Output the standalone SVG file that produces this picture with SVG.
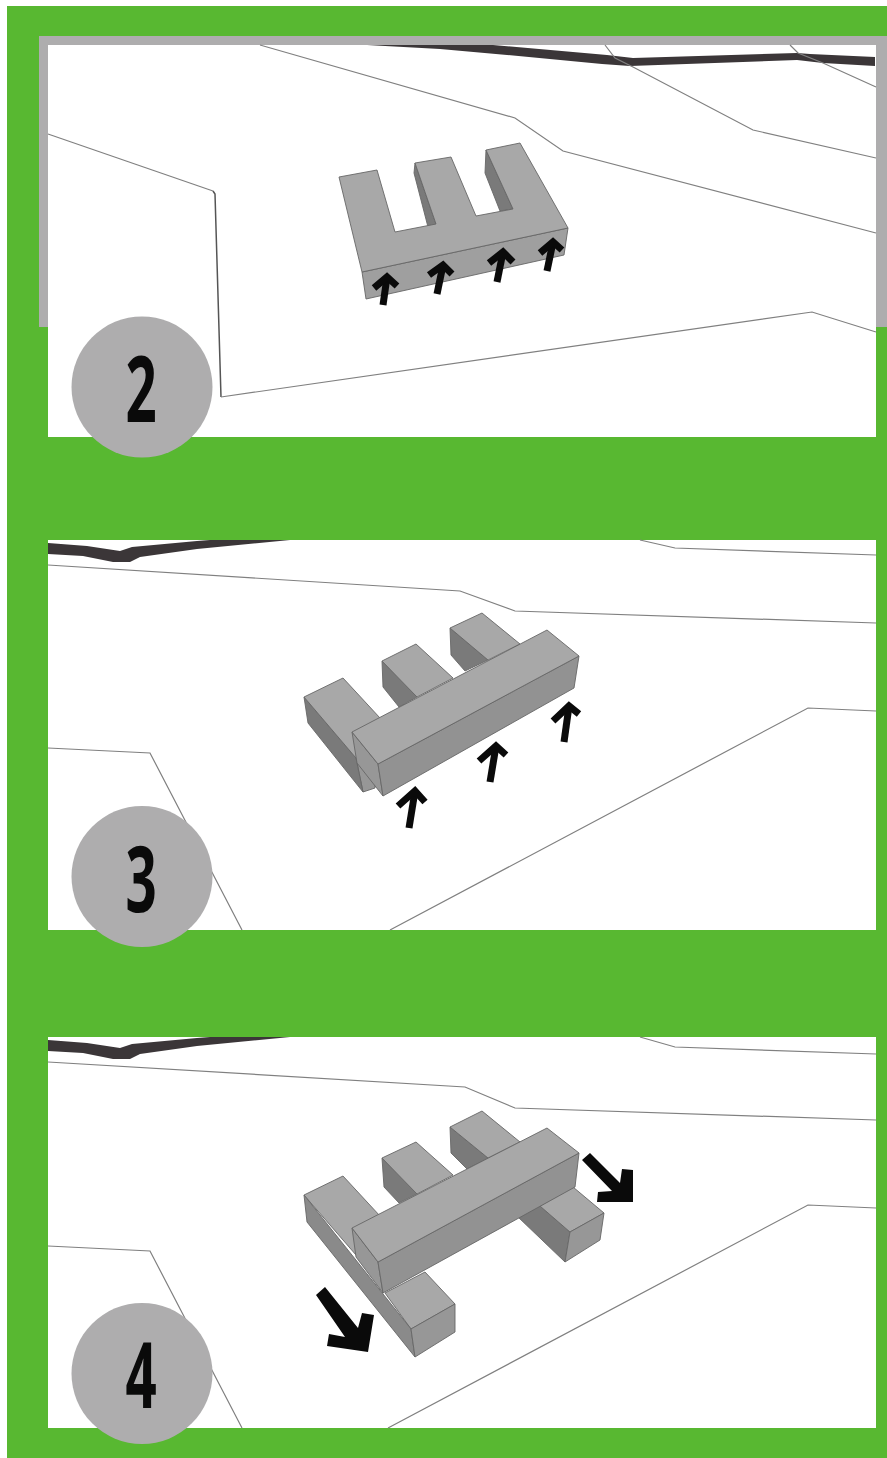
<svg xmlns="http://www.w3.org/2000/svg" width="887" height="1458" viewBox="0 0 887 1458">
<style>
.panel{fill:#fff}
.thin{fill:none;stroke:#808080;stroke-width:1.2}
.road{fill:#3b3638}
.top{fill:#a8a8a8;stroke:#666;stroke-width:.9;stroke-linejoin:round}
.front{fill:#929292;stroke:#666;stroke-width:.9;stroke-linejoin:round}
.side{fill:#7a7a7a;stroke:#666;stroke-width:.9;stroke-linejoin:round}
.end{fill:#979797;stroke:#666;stroke-width:.9;stroke-linejoin:round}
.arrow{fill:none;stroke:#0a0a0a;stroke-width:7;stroke-linejoin:miter;stroke-miterlimit:6}
.badge{fill:#aeadae}
.num{font-family:"Open Sans",sans-serif;font-weight:700;font-size:91px;fill:#0a0a0a;text-anchor:middle}
</style>
<rect x="0" y="0" width="887" height="1458" fill="#fff"/>
<rect x="7" y="6" width="880" height="1452" fill="#58b831"/>

<g id="panel-2">
<rect x="39" y="36" width="848" height="291" fill="#aeadae"/>
<rect class="panel" x="48" y="45" width="828" height="392"/>
<polygon class="road" points="367,45 493,45 573,52 607,55 633,58 797,53 810,54 875,57 875,66 823,63 797,60 630,66 602,64 507,55 440,49"/>
<polyline class="thin" points="260,45 515,118 563,151 876,233"/>
<polyline class="thin" points="605,45 615,58 633,67 753,130 876,158"/>
<polyline class="thin" points="790,45 798,53 823,63 876,87"/>
<polyline class="thin" points="48,134 213,191"/>
<polyline class="thin" style="stroke:#555;stroke-width:1.5" points="213,191 215,194 221,397"/>
<polyline class="thin" points="221,397 812,312 876,332"/>
<g id="block-2">
<polygon class="side" points="415,163 436,224 428,227 414,173"/>
<polygon class="side" points="486,150 513,209 500,211 485,173"/>
<polygon class="front" style="fill:#9f9f9f" points="362,272 568,228 564,255 366,299"/>
<polygon class="top" points="339,177 377,170 395,232 436,224 415,163 451,157 476,216 513,209 486,150 520,143 568,228 362,272"/>
</g>
<g id="arrows-2">
<polyline class="arrow" points="383,305 387,277"/><polyline class="arrow" points="374,288 387,277 397,286"/>
<polyline class="arrow" points="437,294 443,265"/><polyline class="arrow" points="429,275 443,265 452,274"/>
<polyline class="arrow" points="497,282 503,252"/><polyline class="arrow" points="489,263 503,252 513,262"/>
<polyline class="arrow" points="547,271 553,242"/><polyline class="arrow" points="540,253 553,242 562,250"/>
</g>
<g id="badge-2"><circle class="badge" cx="142" cy="387" r="70.5"/><text class="num" transform="translate(141 422) scale(.6 1)">2</text></g>
</g>

<g id="panel-3">
<rect class="panel" x="48" y="540" width="828" height="390"/>
<polygon class="road" points="48,543 87,546 120,551 132,547 197,541 210,540 290,540 197,549 140,557 130,562 113,562 83,556 48,554"/>
<polyline class="thin" points="48,565 460,591 515,611 876,623"/>
<polyline class="thin" points="640,540 675,548 876,555"/>
<polyline class="thin" points="48,748 150,753 242,930"/>
<polyline class="thin" points="390,930 808,708 876,711"/>
<g id="block-3">
<polygon class="side" points="450,628 488,660 465,671 451,655"/>
<polygon class="top" points="450,628 482,613 520,644 488,660"/>
<polygon class="side" points="382,661 417,697 399,707 383,687"/>
<polygon class="top" points="382,661 416,644 453,678 417,697"/>
<polygon class="end" points="356,758 375,748 375,788 363,792"/>
<polygon class="side" points="304,697 356,758 363,792 308,723"/>
<polygon class="top" points="304,697 343,678 380,718 372,770 356,758"/>
<polygon class="end" points="352,732 378,764 383,796 357,763"/>
<polygon class="front" points="378,764 579,656 574,688 383,796"/>
<polygon class="top" points="352,732 547,630 579,656 378,764"/>
</g>
<g id="arrows-3">
<polyline class="arrow" points="409,828 415,791"/><polyline class="arrow" points="398,806 415,791 425,802"/>
<polyline class="arrow" points="490,782 496,746"/><polyline class="arrow" points="479,761 496,746 506,755"/>
<polyline class="arrow" points="564,742 569,706"/><polyline class="arrow" points="553,721 569,706 579,714"/>
</g>
<g id="badge-3"><circle class="badge" cx="142" cy="876.500" r="70.500"/><text class="num" transform="translate(141 912) scale(.6 1)">3</text></g>
</g>

<g id="panel-4">
<rect class="panel" x="48" y="1037" width="828" height="391"/>
<polygon class="road" points="48,1040 87,1043 120,1048 132,1044 197,1038 210,1037 290,1037 197,1046 140,1054 130,1059 113,1059 83,1053 48,1051"/>
<polyline class="thin" points="48,1062 465,1087 515,1108 876,1120"/>
<polyline class="thin" points="640,1037 675,1047 876,1054"/>
<polyline class="thin" points="48,1246 150,1251 242,1428"/>
<polyline class="thin" points="388,1428 808,1205 876,1208"/>
<g id="block-4">
<polygon class="side" points="450,1127 488,1158 467,1169 451,1153"/>
<polygon class="top" points="450,1127 482,1111 520,1142 488,1158"/>
<polygon class="side" points="540,1206 570,1232 565,1262 518,1217"/>
<polygon class="top" points="573,1187 604,1213 570,1232 540,1206"/>
<polygon class="end" points="570,1232 604,1213 600,1240 565,1262"/>
<polygon class="side" points="382,1158 417,1194 399,1203 384,1187"/>
<polygon class="top" points="382,1158 416,1142 453,1175 417,1194"/>
<polygon class="top" points="304,1195 343,1176 380,1216 372,1268 356,1255"/>
<polygon class="top" points="425,1272 455,1304 411,1329 385,1293"/>
<polygon class="side" style="fill:#8a8a8a" points="304,1195 411,1329 415,1357 307,1222"/>
<polygon class="end" points="411,1329 455,1304 455,1332 415,1357"/>
<polygon class="end" points="352,1228 378,1262 383,1293 356,1257"/>
<polygon class="front" points="378,1262 579,1153 575,1187 383,1293"/>
<polygon class="top" points="352,1228 547,1128 579,1153 378,1262"/>
</g>
<g id="arrows-4">
<polygon fill="#0a0a0a" points="316,1295 325,1287 358,1328 362,1313 374,1315 368,1352 327,1346 329,1334 345,1337"/>
<polygon fill="#0a0a0a" points="582,1160 590,1153 620,1183 622,1169 633,1170 633,1202 597,1202 598,1192 612,1191"/>
</g>
<g id="badge-4"><circle class="badge" cx="142" cy="1373.500" r="70.500"/><text class="num" transform="translate(141 1408) scale(.6 1)">4</text></g>
</g>
</svg>
